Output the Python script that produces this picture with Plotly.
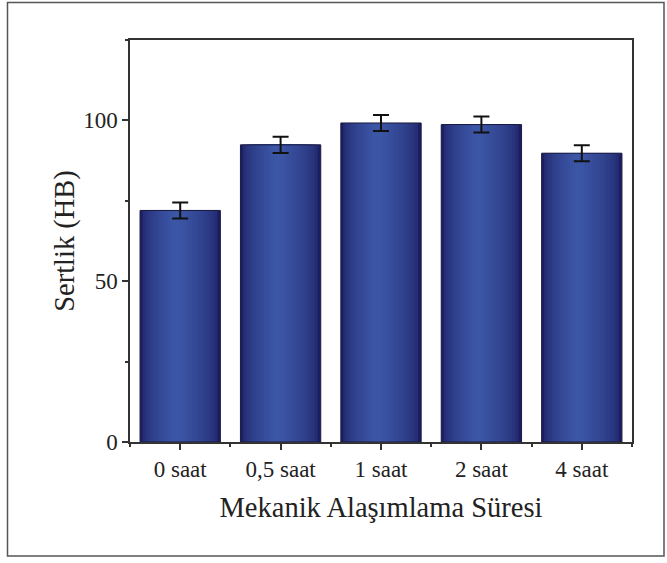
import plotly.graph_objects as go

# ---- data ----
categories = ["0 saat", "0,5 saat", "1 saat", "2 saat", "4 saat"]
hardness = [72.0, 92.4, 99.2, 98.7, 89.8]
hardness_err = [2.5, 2.5, 2.5, 2.5, 2.5]

x_pos = list(range(len(categories)))

W, H = 667, 563
ML, MR, MT, MB = 130, 35, 40, 121

dark = (28, 30, 98)
light = (60, 86, 166)

fig = go.Figure()

# gradient bars built from overlaid bar layers
N = 14
half = 0.4
c = -0.04
for k in range(N):
    t = k / (N - 1)
    s = 0.92
    left = -half + t * (c + half) * s
    right = half - t * (half - c) * s
    f = t ** 0.5
    col = tuple(int(round(dark[i] + (light[i] - dark[i]) * f)) for i in range(3))
    fig.add_trace(go.Bar(
        x=x_pos, y=hardness,
        width=right - left, offset=left,
        marker=dict(color="rgb(%d,%d,%d)" % col, line=dict(width=0)),
        hoverinfo="skip", showlegend=False,
    ))

# outline + error bars on top
fig.add_trace(go.Bar(
    x=x_pos, y=hardness,
    width=2 * half, offset=-half,
    marker=dict(color="rgba(0,0,0,0)", line=dict(color="#1a1a40", width=1)),
    error_y=dict(type="data", array=hardness_err, visible=True,
                 color="#111111", thickness=2, width=8),
    showlegend=False,
))

font_family = "Liberation Serif"

fig.update_layout(
    width=W, height=H,
    margin=dict(l=ML, r=MR, t=MT, b=MB, autoexpand=False),
    paper_bgcolor="white", plot_bgcolor="white",
    barmode="overlay",
    font=dict(family=font_family, color="#222222"),
    showlegend=False,
)

fig.update_xaxes(
    range=[-0.5, len(categories) - 0.5],
    tickmode="array", tickvals=x_pos, ticktext=categories,
    tickfont=dict(size=23, family=font_family, color="#222222"),
    ticks="outside", ticklen=6, tickwidth=1.5, tickcolor="#333333",
    minor=dict(tick0=-0.5, dtick=1, ticks="outside", ticklen=3,
               tickwidth=1.5, tickcolor="#333333"),
    showline=True, linecolor="#333333", linewidth=1.5, mirror=True,
    showgrid=False, zeroline=False,
    title=dict(text="Mekanik Alaşımlama Süresi",
               font=dict(size=28.5, family=font_family, color="#222222"),
               standoff=16),
)

fig.update_yaxes(
    range=[0, 125],
    tickmode="array", tickvals=[0, 50, 100],
    tickfont=dict(size=23, family=font_family, color="#222222"),
    ticks="outside", ticklen=6, tickwidth=1.5, tickcolor="#333333",
    minor=dict(tickvals=[25, 75, 125], ticks="outside", ticklen=3,
               tickwidth=1.5, tickcolor="#333333"),
    showline=True, linecolor="#333333", linewidth=1.5, mirror=True,
    showgrid=False, zeroline=False,
    title=dict(text="Sertlik (HB)",
               font=dict(size=28.5, family=font_family, color="#222222"),
               standoff=0),
)

# outer frame around the whole figure
pw = W - ML - MR
ph = H - MT - MB
def px_x(p):
    return (p - ML) / pw
def px_y(p):
    return (H - MB - p) / ph

fig.add_shape(type="rect", xref="paper", yref="paper",
              x0=px_x(7.5), x1=px_x(664), y0=px_y(556), y1=px_y(2.5),
              line=dict(color="#555555", width=1.5), fillcolor="rgba(0,0,0,0)",
              layer="above")

fig.write_html("out.html",
               config={"displayModeBar": False},
               post_script="document.body.style.margin='0';document.body.style.overflow='hidden';")
